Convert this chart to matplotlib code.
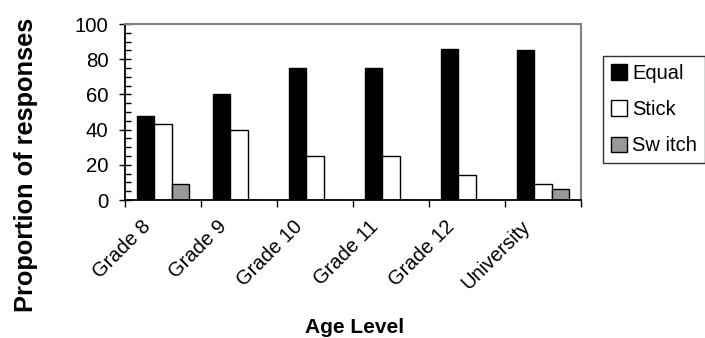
import numpy as np
import matplotlib.pyplot as plt
from matplotlib.ticker import MultipleLocator, FixedLocator
from matplotlib.transforms import ScaledTranslation

plt.rcParams['font.family'] = ['Liberation Sans', 'DejaVu Sans']

categories = ["Grade 8", "Grade 9", "Grade 10", "Grade 11", "Grade 12", "University"]
equal = [48, 60, 75, 75, 86, 85]
stick = [43, 40, 25, 25, 14, 9]
switch = [9, 0, 0, 0, 0, 6]
series_names = ["Equal", "Stick", "Sw itch"]

fig = plt.figure(figsize=(7.05, 3.38), dpi=100)
ax = fig.add_axes([125 / 705, 1 - 200 / 338, 456 / 705, 176 / 338])

x = np.arange(len(categories))
w = 0.225
colors = ["black", "white", "#999999"]
for k, (vals, name, c) in enumerate(zip([equal, stick, switch], series_names, colors)):
    ax.bar(x + (k - 1) * w, vals, w, color=c, edgecolor="black", linewidth=1.0, label=name)

ax.set_xlim(-0.5, len(categories) - 0.5)
ax.set_ylim(0, 100)
ax.yaxis.set_major_locator(MultipleLocator(20))
ax.yaxis.set_minor_locator(MultipleLocator(5))
ax.tick_params(axis="y", which="major", direction="inout", length=8, width=1, labelsize=14.7, pad=8)
ax.tick_params(axis="y", which="minor", direction="in", length=4, width=1)

ax.xaxis.set_major_locator(FixedLocator(np.arange(len(categories) + 1) - 0.5))
ax.xaxis.set_minor_locator(FixedLocator(x))
ax.set_xticklabels([], minor=False)
ax.set_xticklabels(categories, minor=True, rotation=45, ha="right", fontsize=14.5)
ax.tick_params(axis="x", which="major", direction="out", length=5, width=1)
ax.tick_params(axis="x", which="minor", length=0, pad=12)
shift = ScaledTranslation(-9 / 100, 0, fig.dpi_scale_trans)
for lab in ax.xaxis.get_minorticklabels():
    lab.set_transform(lab.get_transform() + shift)

for side in ["top", "right"]:
    ax.spines[side].set_color("#808080")
    ax.spines[side].set_linewidth(1.5)
for side in ["left", "bottom"]:
    ax.spines[side].set_linewidth(1.3)

fig.text(26 / 705, 1 - 165 / 338, "Proportion of responses", rotation=90, ha="center", va="center",
         fontsize=18.3, fontweight="bold")
fig.text(355 / 705, 1 - 333 / 338, "Age Level", ha="center", va="baseline",
         fontsize=15, fontweight="bold")

leg = ax.legend(loc="upper left", bbox_to_anchor=(478 / 456, 1 - 32 / 176), fontsize=14.5,
                frameon=True, fancybox=False, edgecolor="black", handlelength=0.8,
                handleheight=0.8, handletextpad=0.25, borderpad=0.4, labelspacing=0.85,
                borderaxespad=0)
leg.get_frame().set_linewidth(1.0)

fig.savefig("out.png", dpi=100)
